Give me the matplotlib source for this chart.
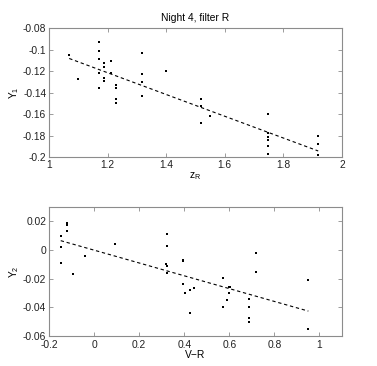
import matplotlib
matplotlib.use("Agg")
import matplotlib.pyplot as plt
import numpy as np

plt.rcParams['font.family'] = ['Liberation Sans', 'DejaVu Sans']
plt.rcParams['axes.unicode_minus'] = False

# Night 4, filter R: airmass vs Y1
zr = [1.069, 1.100, 1.170, 1.170, 1.170, 1.170, 1.170,
      1.189, 1.189, 1.189, 1.189, 1.210, 1.210,
      1.230, 1.230, 1.230, 1.230,
      1.319, 1.319, 1.319, 1.319, 1.399,
      1.519, 1.519, 1.519, 1.550,
      1.748, 1.748, 1.748, 1.748, 1.748, 1.748,
      1.919, 1.919, 1.919]
y1 = [-0.105, -0.127, -0.093, -0.101, -0.109, -0.1215, -0.136,
      -0.112, -0.116, -0.126, -0.129, -0.1105, -0.1215,
      -0.133, -0.136, -0.146, -0.1495,
      -0.1034, -0.1227, -0.130, -0.143, -0.120,
      -0.146, -0.1526, -0.168, -0.1614,
      -0.1604, -0.178, -0.181, -0.184, -0.190, -0.197,
      -0.1807, -0.188, -0.198]

# colour index vs Y2
vr = [-0.148, -0.148, -0.148, -0.120, -0.120, -0.120, -0.094, -0.040, 0.092,
      0.324, 0.324, 0.319, 0.324, 0.324,
      0.396, 0.396, 0.396, 0.405, 0.424, 0.444, 0.424,
      0.572, 0.572, 0.592, 0.600, 0.605, 0.600,
      0.688, 0.688, 0.688, 0.688, 0.717, 0.717,
      0.951, 0.951]
y2 = [0.0098, 0.0023, -0.0091, 0.0188, 0.0174, 0.0133, -0.017, -0.004, 0.004,
      0.0112, 0.0028, -0.010, -0.011, -0.0163,
      -0.007, -0.0079, -0.0235, -0.030, -0.0277, -0.0263, -0.044,
      -0.0193, -0.0398, -0.0349, -0.0258, -0.026, -0.0302,
      -0.0342, -0.040, -0.0477, -0.0505, -0.0019, -0.0154,
      -0.0207, -0.0553]

grey = '#8c8c8c'
fs = 7.4


def style(ax):
    for s in ax.spines.values():
        s.set_color(grey)
        s.set_linewidth(0.8)
    ax.tick_params(direction='in', length=3, width=0.6, color=grey,
                   top=True, right=True, labelsize=fs, pad=2, labelcolor='#222222')


def fit_line(ax, x, y):
    x = np.asarray(x)
    p = np.polyfit(x, y, 1)
    xs = np.array([x.min(), x.max()])
    ax.plot(xs, np.polyval(p, xs), '--', color='black', lw=0.8, dashes=(3, 2.5))


fig = plt.figure(figsize=(3.77, 3.66), dpi=100)

ax1 = fig.add_axes([0.130, 0.571, 0.777, 0.352])
ax1.plot(zr, y1, 's', color='black', ms=1.8, mew=0)
fit_line(ax1, zr, y1)
ax1.set_xlim(1, 2)
ax1.set_ylim(-0.2, -0.08)
ax1.set_xticks([1, 1.2, 1.4, 1.6, 1.8, 2])
ax1.set_xticklabels(['1', '1.2', '1.4', '1.6', '1.8', '2'])
ax1.set_yticks([-0.2, -0.18, -0.16, -0.14, -0.12, -0.1, -0.08])
ax1.set_yticklabels(['-0.2', '-0.18', '-0.16', '-0.14', '-0.12', '-0.1', '-0.08'])
ax1.set_xlabel('z$_\\mathregular{R}$', fontsize=fs, labelpad=0)
ax1.set_ylabel('Y$_\\mathregular{1}$', fontsize=fs, labelpad=1)
ax1.set_title('Night 4, filter R', fontsize=fs, pad=5)
style(ax1)

ax2 = fig.add_axes([0.130, 0.082, 0.777, 0.352])
ax2.plot(vr, y2, 's', color='black', ms=1.8, mew=0)
fit_line(ax2, vr, y2)
ax2.set_xlim(-0.2, 1.1)
ax2.set_ylim(-0.06, 0.03)
ax2.set_xticks([-0.2, 0, 0.2, 0.4, 0.6, 0.8, 1])
ax2.set_xticklabels(['-0.2', '0', '0.2', '0.4', '0.6', '0.8', '1'])
ax2.set_yticks([-0.06, -0.04, -0.02, 0, 0.02])
ax2.set_yticklabels(['-0.06', '-0.04', '-0.02', '0', '0.02'])
ax2.set_xlabel('V\u2212R', fontsize=fs, labelpad=0)
ax2.set_ylabel('Y$_\\mathregular{2}$', fontsize=fs, labelpad=1)
style(ax2)
ax2.tick_params(axis='x', pad=3.2)

fig.savefig('out.png', dpi=100)
